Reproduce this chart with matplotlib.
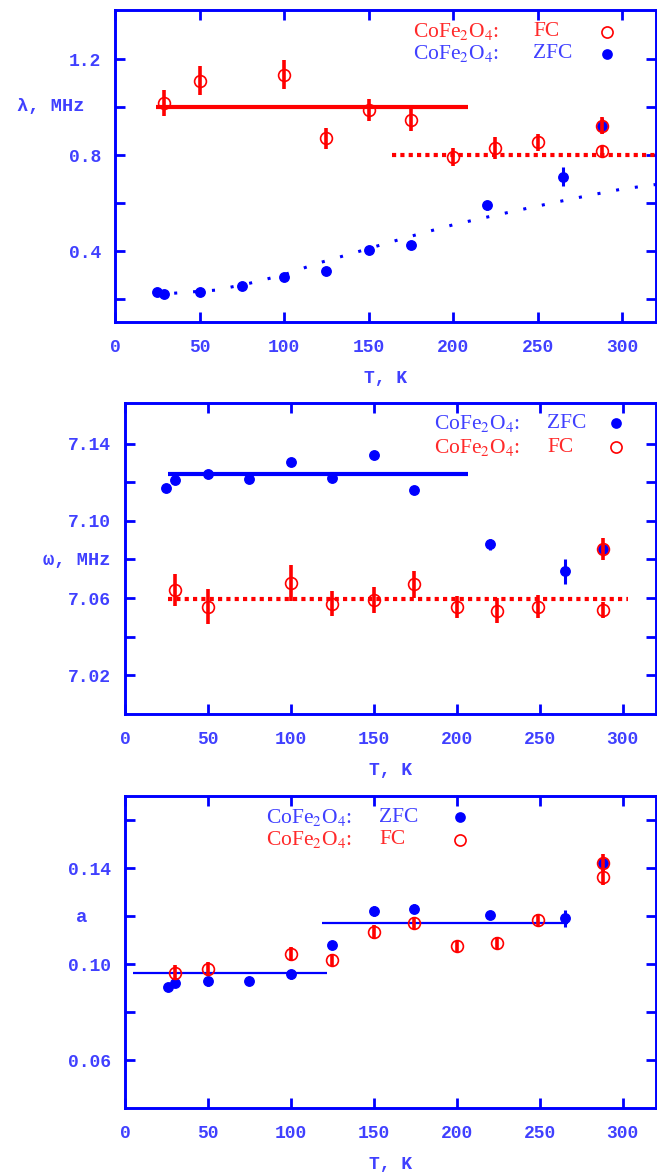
import matplotlib
matplotlib.use("Agg")
import matplotlib.pyplot as plt

# ---------------- data ----------------
# Panel 1: lambda, MHz
T1_fc = [29, 50, 100, 125, 150, 175, 200, 225, 250, 288, 288]
lam_fc = [1.017, 1.111, 1.136, 0.870, 0.989, 0.948, 0.793, 0.830, 0.854, 0.923, 0.818]
lam_fc_err = [0.053, 0.059, 0.059, 0.043, 0.046, 0.046, 0.036, 0.044, 0.035, 0.035, 0.02]
T1_zfc = [25, 29, 50, 75, 100, 125, 150, 175, 220, 265, 288]
lam_zfc = [0.232, 0.222, 0.229, 0.253, 0.293, 0.318, 0.405, 0.427, 0.591, 0.710, 0.923]
lam_zfc_err = [0.008, 0.008, 0.008, 0.01, 0.012, 0.012, 0.012, 0.012, 0.02, 0.04, 0.03]
fit1_T = [35, 60, 80, 100, 120, 140, 160, 180, 200, 220, 240, 260, 280, 300, 320]
fit1_lam = [0.225, 0.238, 0.267, 0.302, 0.35, 0.39, 0.432, 0.472, 0.51, 0.542, 0.573, 0.603, 0.632, 0.659, 0.678]
fc1_level = 1.0
fc1_range = [24, 209]
fc1_high_level = 0.80
fc1_high_range = [164, 320]

# Panel 2: omega, MHz
T2_zfc = [25, 30, 50, 75, 100, 125, 150, 174, 220, 265, 288]
om_zfc = [7.1171, 7.1210, 7.1241, 7.1214, 7.1302, 7.1224, 7.1340, 7.1159, 7.0878, 7.0740, 7.0855]
om_zfc_err = [0.0015, 0.0015, 0.001, 0.002, 0.0015, 0.0015, 0.0015, 0.0015, 0.003, 0.0065, 0.002]
T2_fc = [30, 50, 100, 125, 150, 174, 200, 224, 249, 288, 288]
om_fc = [7.0641, 7.0555, 7.0679, 7.0572, 7.0590, 7.0671, 7.0555, 7.0534, 7.0555, 7.0538, 7.0855]
om_fc_err = [0.0084, 0.009, 0.0092, 0.0067, 0.0068, 0.0069, 0.0057, 0.0065, 0.0059, 0.004, 0.0057]
zfc2_level = 7.1245
zfc2_range = [26, 207]
fc2_level = 7.0595
fc2_range = [26, 303]

# Panel 3: a
T3_zfc = [26, 30, 50, 75, 100, 125, 150, 174, 220, 265, 288]
a_zfc = [0.0907, 0.0921, 0.0928, 0.0928, 0.0958, 0.1081, 0.1223, 0.1232, 0.1205, 0.1191, 0.1424]
a_zfc_err = [0.0015, 0.0015, 0.002, 0.0015, 0.0018, 0.0015, 0.0022, 0.0018, 0.0018, 0.0035, 0.002]
T3_fc = [30, 50, 100, 125, 150, 174, 200, 224, 249, 288, 288]
a_fc = [0.0965, 0.0979, 0.1042, 0.1018, 0.1135, 0.1174, 0.1074, 0.1090, 0.1184, 0.1362, 0.1424]
a_fc_err = [0.003, 0.003, 0.0028, 0.0025, 0.003, 0.0025, 0.0022, 0.0025, 0.0025, 0.003, 0.0035]
a_low_level = 0.0962
a_low_range = [5, 122]
a_high_level = 0.117
a_high_range = [118.6, 267]

x_ticks = [0, 50, 100, 150, 200, 250, 300]

# ---------------- style ----------------
BLUE = "#0000ff"
BLUE_T = "#4040ff"
RED = "#ff0000"
RED_T = "#ff2a2a"
MONO = "Liberation Mono"
SERIF = "Liberation Serif"
plt.rcParams["mathtext.fontset"] = "stix"

W, H = 657, 1176
fig = plt.figure(figsize=(W / 100, H / 100), dpi=100)


def make_ax(left, top, right, bottom):
    return fig.add_axes([left / W, 1 - bottom / H, (right - left) / W, (bottom - top) / H])


def style_ax(ax, yticks, ylabels, ylim, ylabel, ylabel_xy):
    ax.set_xlim(0, 320)
    ax.set_ylim(*ylim)
    for s in ax.spines.values():
        s.set_color(BLUE)
        s.set_linewidth(2.1)
    ax.set_xticks(x_ticks)
    ax.set_xticklabels([str(t) for t in x_ticks])
    ax.set_yticks(yticks)
    ax.set_yticklabels(ylabels)
    ax.tick_params(direction="in", length=7, width=2.0, color=BLUE,
                   top=True, right=True, labelcolor=BLUE_T, labelsize=13)
    ax.tick_params(axis="x", pad=12)
    ax.tick_params(axis="y", pad=10)
    for lab in ax.get_xticklabels() + ax.get_yticklabels():
        lab.set_family(MONO)
        lab.set_weight("bold")
    ax.set_xlabel("T, K", family=MONO, fontsize=13, color=BLUE_T, labelpad=10,
                  weight="bold")
    fig.text(ylabel_xy[0] / W, 1 - ylabel_xy[1] / H, ylabel, family=MONO,
             fontsize=13.5, color=BLUE_T, ha="left", va="center", weight="bold")


def legend_rows(ax, rows, x_text, x_tag, x_mark, ys):
    # rows: (marker colour, text colour, tag, filled)
    for (col, tcol, tag, filled), y in zip(rows, ys):
        ax.text(x_text, y, r"CoFe$_2$O$_4$:", transform=ax.transAxes, color=tcol,
                family=SERIF, fontsize=15.5, ha="left", va="center")
        ax.text(x_tag, y, tag, transform=ax.transAxes, color=tcol,
                family=SERIF, fontsize=15.5, ha="left", va="center")
        ax.plot([x_mark], [y], transform=ax.transAxes, marker="o", linestyle="none",
                markersize=8 if not filled else 6.5,
                markerfacecolor=col if filled else "none", markeredgecolor=col,
                markeredgewidth=1.2, clip_on=False)


def zfc(ax, T, v, e):
    ax.errorbar(T, v, yerr=e, fmt="o", color=BLUE, markersize=6.8, elinewidth=2.2,
                capsize=0, zorder=3)


def fc(ax, T, v, e):
    ax.errorbar(T, v, yerr=e, fmt="o", color=RED, markersize=8.5, markerfacecolor="none",
                markeredgewidth=1.2, elinewidth=2.6, capsize=0, zorder=4)


# ---------------- panel 1 ----------------
ax1 = make_ax(115, 10, 656, 322)
ax1.plot(fc1_range, [fc1_level, fc1_level], color=RED, lw=3.0, solid_capstyle="butt")
ax1.plot(fc1_high_range, [fc1_high_level, fc1_high_level], color=RED, lw=3.0,
         linestyle=(0, (1.0, 1.0)), dash_capstyle="butt")
ax1.plot(fit1_T, fit1_lam, color=BLUE, lw=2.2, linestyle=(0, (1.0, 5.2)),
         dash_capstyle="butt")
zfc(ax1, T1_zfc, lam_zfc, lam_zfc_err)
fc(ax1, T1_fc, lam_fc, lam_fc_err)
style_ax(ax1, [0.2, 0.4, 0.6, 0.8, 1.0, 1.2], ["", "0.4", "", "0.8", "", "1.2"],
         (0.105, 1.405), "λ, MHz", (17, 107))
legend_rows(ax1, [(RED, RED_T, "FC", False), (BLUE, BLUE_T, "ZFC", True)],
            (413 - 115) / 541, (533 - 115) / 541, (607 - 115) / 541,
            [1 - (32 - 10) / 312, 1 - (54 - 10) / 312])

# ---------------- panel 2 ----------------
ax2 = make_ax(125, 403, 656, 714)
ax2.plot(zfc2_range, [zfc2_level, zfc2_level], color=BLUE, lw=3.0, solid_capstyle="butt")
ax2.plot(fc2_range, [fc2_level, fc2_level], color=RED, lw=3.0,
         linestyle=(0, (1.0, 1.0)), dash_capstyle="butt")
zfc(ax2, T2_zfc, om_zfc, om_zfc_err)
fc(ax2, T2_fc, om_fc, om_fc_err)
style_ax(ax2, [7.02, 7.04, 7.06, 7.08, 7.10, 7.12, 7.14],
         ["7.02", "", "7.06", "", "7.10", "", "7.14"],
         (7.0, 7.161), "ω, MHz", (43, 560))
legend_rows(ax2, [(BLUE, BLUE_T, "ZFC", True), (RED, RED_T, "FC", False)],
            (434 - 125) / 531, (547 - 125) / 531, (616 - 125) / 531,
            [1 - (423 - 403) / 311, 1 - (447 - 403) / 311])

# ---------------- panel 3 ----------------
ax3 = make_ax(125, 796, 656, 1108)
ax3.plot(a_low_range, [a_low_level, a_low_level], color=BLUE, lw=1.6, solid_capstyle="butt")
ax3.plot(a_high_range, [a_high_level, a_high_level], color=BLUE, lw=1.6, solid_capstyle="butt")
zfc(ax3, T3_zfc, a_zfc, a_zfc_err)
fc(ax3, T3_fc, a_fc, a_fc_err)
style_ax(ax3, [0.06, 0.08, 0.10, 0.12, 0.14, 0.16],
         ["0.06", "", "0.10", "", "0.14", ""],
         (0.04, 0.1702), "a", (76, 917))
legend_rows(ax3, [(BLUE, BLUE_T, "ZFC", True), (RED, RED_T, "FC", False)],
            (266 - 125) / 531, (379 - 125) / 531, (460 - 125) / 531,
            [1 - (817 - 796) / 312, 1 - (840 - 796) / 312])

fig.savefig("out.png", dpi=100)
